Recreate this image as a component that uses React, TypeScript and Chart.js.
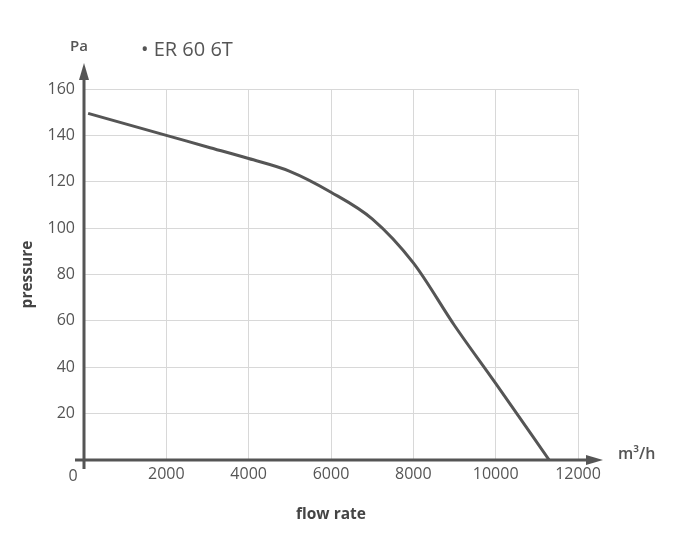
import React, { useEffect, useRef } from "react";
import { Chart, registerables } from "chart.js";

Chart.register(...registerables);

const seriesLabel = "ER 60 6T";
const flowRates = [100, 2000, 3000, 4000, 5000, 6000, 7000, 8000, 9000, 10000, 11300];
const pressures = [149.5, 140, 135, 130, 124.5, 115.5, 104, 85, 58, 33, 0];
const xTicks = [0, 2000, 4000, 6000, 8000, 10000, 12000];
const yTicks = [0, 20, 40, 60, 80, 100, 120, 140, 160];

const FONT = "'Open Sans', sans-serif";
const DARK = "#555555";

const axesPlugin = {
  id: "arrowAxes",
  afterDatasetsDraw(chart: any) {
    const ctx = chart.ctx;
    const x = chart.scales.x;
    const y = chart.scales.y;
    const x0 = x.getPixelForValue(0);
    const y0 = y.getPixelForValue(0);
    const yTop = y.getPixelForValue(160);
    const xEnd = x.getPixelForValue(12000);
    ctx.save();
    ctx.strokeStyle = DARK;
    ctx.fillStyle = DARK;
    ctx.lineWidth = 3;
    // y axis
    ctx.beginPath();
    ctx.moveTo(x0, y0 + 9);
    ctx.lineTo(x0, yTop - 14);
    ctx.stroke();
    ctx.beginPath();
    ctx.moveTo(x0, yTop - 26);
    ctx.lineTo(x0 - 5, yTop - 9);
    ctx.lineTo(x0 + 5, yTop - 9);
    ctx.closePath();
    ctx.fill();
    // x axis
    ctx.beginPath();
    ctx.moveTo(x0 - 9, y0);
    ctx.lineTo(xEnd + 12, y0);
    ctx.stroke();
    ctx.beginPath();
    ctx.moveTo(xEnd + 25, y0);
    ctx.lineTo(xEnd + 8, y0 - 5);
    ctx.lineTo(xEnd + 8, y0 + 5);
    ctx.closePath();
    ctx.fill();
    // texts
    ctx.textBaseline = "middle";
    ctx.font = `600 15px ${FONT}`;
    ctx.textAlign = "center";
    ctx.fillText("Pa", x0 - 5, yTop - 42);
    ctx.font = `600 16px ${FONT}`;
    ctx.textAlign = "left";
    ctx.fillText("m³/h", xEnd + 40, y0 - 6);
    ctx.font = `16px ${FONT}`;
    ctx.textAlign = "center";
    ctx.fillText("0", x0 - 11, y0 + 16);
    ctx.font = `20px ${FONT}`;
    ctx.textAlign = "left";
    ctx.fillText("• " + chart.data.datasets[0].label, 141, yTop - 39);
    ctx.restore();
  },
};

export default function App() {
  const ref = useRef<HTMLCanvasElement>(null);
  useEffect(() => {
    if (!ref.current) return;
    const chart = new Chart(ref.current, {
      type: "line",
      data: {
        datasets: [
          {
            label: seriesLabel,
            data: flowRates.map((f, i) => ({ x: f, y: pressures[i] })),
            borderColor: DARK,
            borderWidth: 3,
            pointRadius: 0,
            fill: false,
            cubicInterpolationMode: "monotone",
          },
        ],
      },
      options: {
        animation: false,
        responsive: false,
        layout: { padding: { left: 0, right: 105, top: 89, bottom: 0 } },
        plugins: { legend: { display: false }, tooltip: { enabled: false } },
        scales: {
          x: {
            type: "linear",
            min: 0,
            max: 12000,
            afterBuildTicks: (s: any) => {
              s.ticks = xTicks.map((v) => ({ value: v }));
            },
            afterFit: (s: any) => {
              s.height = 80;
            },
            ticks: {
              color: DARK,
              font: { family: FONT, size: 16 },
              padding: 5,
              maxRotation: 0,
              callback: (v: any) => (v === 0 ? "" : String(v)),
            },
            grid: { color: "#d8d8d8", lineWidth: 1, drawTicks: false },
            border: { display: false },
            title: {
              display: true,
              text: "flow rate",
              color: "#444",
              font: { family: FONT, size: 15.5, weight: "bold" },
              padding: { top: 0, bottom: 16 },
            },
          },
          y: {
            type: "linear",
            min: 0,
            max: 160,
            afterBuildTicks: (s: any) => {
              s.ticks = yTicks.map((v) => ({ value: v }));
            },
            afterFit: (s: any) => {
              s.width = 84;
            },
            ticks: {
              color: DARK,
              font: { family: FONT, size: 16 },
              padding: 9,
              callback: (v: any) => (v === 0 ? "" : String(v)),
            },
            grid: { color: "#d8d8d8", lineWidth: 1, drawTicks: false },
            border: { display: false },
            title: {
              display: true,
              text: "pressure",
              color: "#444",
              font: { family: FONT, size: 15.5, weight: "bold" },
              padding: { top: 18, bottom: 0 },
            },
          },
        },
      },
      plugins: [axesPlugin],
    } as any);
    return () => chart.destroy();
  }, []);
  return (
    <div style={{ position: "fixed", left: 0, top: 0, width: 683, height: 540, background: "#fff" }}>
      <canvas ref={ref} width={683} height={540} style={{ width: 683, height: 540, display: "block" }} />
    </div>
  );
}
